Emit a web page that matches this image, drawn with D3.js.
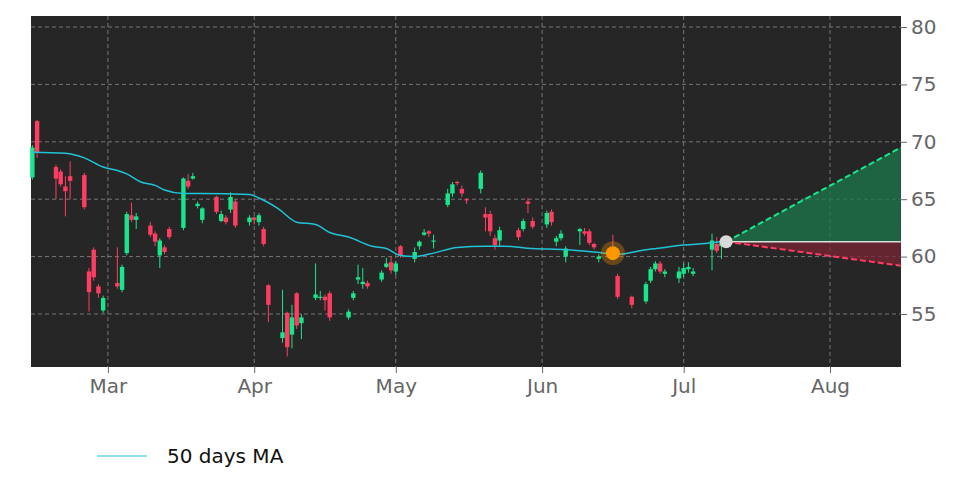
<!DOCTYPE html>
<html><head><meta charset="utf-8">
<script src="https://cdn.jsdelivr.net/npm/d3@7"></script>
<style>body{margin:0;background:#fff;} text{font-family:"DejaVu Sans",sans-serif;}</style>
</head><body><svg id="chart" width="972" height="486"></svg>
<script>
// candles: date, open, close, high, low
var dates = ["2025-02-13","2025-02-14","2025-02-18","2025-02-19","2025-02-20","2025-02-21","2025-02-24","2025-02-25","2025-02-26","2025-02-27","2025-02-28",
  "2025-03-03","2025-03-04","2025-03-05","2025-03-06","2025-03-07","2025-03-10","2025-03-11","2025-03-12","2025-03-13","2025-03-14",
  "2025-03-17","2025-03-18","2025-03-19","2025-03-20","2025-03-21","2025-03-24","2025-03-25","2025-03-26","2025-03-27","2025-03-28",
  "2025-03-31","2025-04-01","2025-04-02","2025-04-03","2025-04-04","2025-04-07","2025-04-08","2025-04-09","2025-04-10","2025-04-11",
  "2025-04-14","2025-04-15","2025-04-16","2025-04-17","2025-04-21","2025-04-22","2025-04-23","2025-04-24","2025-04-25",
  "2025-04-28","2025-04-29","2025-04-30","2025-05-01","2025-05-02","2025-05-05","2025-05-06","2025-05-07","2025-05-08","2025-05-09",
  "2025-05-12","2025-05-13","2025-05-14","2025-05-15","2025-05-16","2025-05-19","2025-05-20","2025-05-21","2025-05-22","2025-05-23",
  "2025-05-27","2025-05-28","2025-05-29","2025-05-30","2025-06-02","2025-06-03","2025-06-04","2025-06-05","2025-06-06",
  "2025-06-09","2025-06-10","2025-06-11","2025-06-12","2025-06-13","2025-06-16","2025-06-17","2025-06-20",
  "2025-06-23","2025-06-24","2025-06-25","2025-06-26","2025-06-27","2025-06-30","2025-07-01","2025-07-02","2025-07-03",
  "2025-07-07","2025-07-08","2025-07-09"];
var opens  = [66.9,71.8,67.8,67.4,66.1,67.0,67.1,58.7,60.6,57.4,55.3, 57.7,57.1,60.3,63.6,63.2,62.7,62.0,60.1,60.8,62.4,
  62.5,66.6,66.8,64.4,63.2,65.2,63.1,63.4,64.1,64.8, 63.0,63.4,63.0,62.4,57.5,52.9,55.1,53.2,56.8,54.2,
  56.4,56.4,56.5,56.8,54.7,56.4,58.0,57.6,57.7, 58.0,59.1,59.5,58.7,60.9,59.8,60.9,61.9,62.2,61.3,
  64.5,65.5,66.5,65.9,65.0,65.9,63.7,63.7,61.6,61.4, 62.3,62.4,64.8,63.1,62.8,63.9,61.3,61.6,60.0,
  62.2,62.2,62.2,61.1,59.8,60.5,58.3,56.5, 56.1,57.9,58.9,59.4,58.5,58.1,58.5,58.9,58.5, 60.6,61.1,60.9];
var closes = [69.5,69.1,66.8,66.3,65.7,66.6,64.3,56.9,58.2,56.8,56.4, 57.4,59.1,63.7,63.2,63.5,61.9,61.3,61.4,60.4,61.7,
  66.8,66.1,67.0,64.6,64.2,63.9,63.7,63.0,65.2,62.7, 63.4,63.2,63.6,61.1,55.8,53.4,52.1,54.7,54.0,54.7,
  56.7,56.5,56.2,54.7,55.2,56.8,58.2,57.8,57.4, 58.6,59.4,58.8,59.4,60.1,60.4,61.3,62.1,62.0,61.4,
  65.5,66.3,66.4,65.5,64.9,67.3,63.4,62.2,61.0,62.3, 61.7,63.1,64.6,62.6,63.8,63.0,61.6,62.0,60.7,
  62.4,62.0,61.2,60.8,60.0,60.2,56.5,55.8, 57.6,58.9,59.4,58.7,58.7,58.7,59.0,59.1,58.7, 61.4,60.5,61.4];
var highs  = [69.7,71.9,68.0,67.6,67.0,68.3,67.3,59.0,60.8,57.6,56.6, 60.8,59.3,63.9,64.7,63.8,63.0,62.2,61.6,61.0,62.6,
  66.9,67.2,67.3,64.8,64.3,65.3,64.0,63.6,65.6,65.0, 63.6,63.5,63.8,62.6,57.6,57.1,55.2,55.8,56.9,55.0,
  59.4,57.0,56.7,57.0,55.4,57.0,59.3,59.0,57.9, 58.8,59.9,60.0,59.6,61.0,60.8,61.4,62.4,62.3,61.9,
  65.9,66.5,66.6,66.2,65.1,67.5,64.3,64.0,61.9,62.6, 62.5,63.3,65.1,63.4,64.0,64.1,61.8,62.3,60.9,
  62.5,62.5,62.4,61.2,60.2,61.9,58.5,56.6, 57.8,59.1,59.6,59.6,58.9,59.1,59.4,59.5,59.0, 62.0,61.7,61.6];
var lows   = [66.7,68.6,65.0,66.1,63.5,65.0,64.1,55.2,57.9,56.4,55.1, 57.2,56.9,60.1,63.0,62.4,61.7,60.9,59.0,60.2,61.5,
  62.3,65.9,66.7,64.2,62.9,63.7,63.0,62.8,63.8,62.5, 62.7,62.8,62.7,60.9,54.3,52.5,51.3,52.0,53.7,52.8,
  56.2,56.2,55.3,54.4,54.5,56.2,57.6,57.2,57.2, 57.8,59.0,58.5,58.4,59.9,59.5,60.6,61.8,61.7,60.7,
  64.3,65.2,66.2,65.2,64.6,65.5,62.2,61.8,60.6,60.9, 61.4,62.2,63.8,62.4,62.5,62.7,60.9,61.4,59.5,
  61.0,61.8,61.0,60.6,59.5,59.7,56.3,55.5, 55.9,57.7,58.7,58.5,58.2,57.7,58.2,58.6,58.3, 58.8,60.3,59.8]
// 50 days MA
var maDates = ["2025-02-13","2025-02-20","2025-02-24","2025-02-28","2025-03-03","2025-03-05","2025-03-08","2025-03-11","2025-03-13","2025-03-17","2025-03-21","2025-03-31","2025-04-02","2025-04-06","2025-04-10","2025-04-14","2025-04-17","2025-04-21","2025-04-26","2025-04-29","2025-05-02","2025-05-05","2025-05-09","2025-05-14","2025-05-20","2025-05-24","2025-05-30","2025-06-06","2025-06-12","2025-06-17","2025-06-23","2025-06-27","2025-07-01","2025-07-07","2025-07-10"];
var maVals = [69.1,69.0,68.6,67.8,67.5,67.2,66.5,66.2,65.8,65.5,65.5,65.4,65.1,64.2,63.0,62.8,62.1,61.7,60.9,60.7,60.1,60.0,60.3,60.8,60.9,60.9,60.7,60.6,60.4,60.2,60.6,60.8,61.0,61.2,61.4];
var lastDate = "2025-07-10", lastPrice = 61.3;
var projDate = "2025-08-16", projHigh = 69.5, projLow = 59.2;
var eventDate = "2025-06-16", eventPrice = 60.3;
var yTicks = [55, 60, 65, 70, 75, 80];
var monthTicks = ["2025-03-01","2025-04-01","2025-05-01","2025-06-01","2025-07-01","2025-08-01"];

var parse = d3.timeParse("%Y-%m-%d");
var svg = d3.select("#chart");
var L = 31, R = 901, T = 16, B = 367;
var x = d3.scaleTime().domain([new Date(2025,1,12,17), new Date(2025,7,16,1)]).range([L, R]);
var y = d3.scaleLinear().domain([50.38, 80.96]).range([B, T]);

svg.append("rect").attr("x", L).attr("y", T).attr("width", R - L).attr("height", B - T).attr("fill", "#262626");

var grid = svg.append("g").attr("stroke", "#8a8a8a").attr("stroke-width", 0.8).attr("stroke-dasharray", "4,3");
grid.selectAll(".h").data(yTicks).enter().append("line")
  .attr("x1", L).attr("x2", R).attr("y1", d => y(d)).attr("y2", d => y(d));
grid.selectAll(".v").data(monthTicks).enter().append("line")
  .attr("y1", T).attr("y2", B).attr("x1", d => x(parse(d))).attr("x2", d => x(parse(d)));

// axes
var yAxis = svg.append("g").attr("transform", "translate(" + R + ",0)")
  .call(d3.axisRight(y).tickValues(yTicks).tickSize(6).tickPadding(4));
var xAxis = svg.append("g").attr("transform", "translate(0," + B + ")")
  .call(d3.axisBottom(x).tickValues(monthTicks.map(parse)).tickFormat(d3.timeFormat("%b")).tickSize(6).tickPadding(6));
[xAxis, yAxis].forEach(a => {
  a.select(".domain").remove();
  a.selectAll("line").attr("stroke", "#666");
  a.selectAll("text").attr("fill", "#666").style("font-size", "20px").style("font-family", "DejaVu Sans");
});

// projection cone
var x0 = x(parse(lastDate)), x1 = x(parse(projDate));
svg.append("path").attr("d", "M" + x0 + "," + y(lastPrice) + "L" + x1 + "," + y(projHigh) + "L" + x1 + "," + y(lastPrice) + "Z")
  .attr("fill", "#1c7a4e").attr("opacity", 0.75);
svg.append("path").attr("d", "M" + x0 + "," + y(lastPrice) + "L" + x1 + "," + y(lastPrice) + "L" + x1 + "," + y(projLow) + "Z")
  .attr("fill", "#7a2535").attr("opacity", 0.75);
svg.append("line").attr("x1", x0).attr("x2", x1).attr("y1", y(lastPrice)).attr("y2", y(lastPrice))
  .attr("stroke", "#dddddd").attr("stroke-width", 1.5);
svg.append("line").attr("x1", x0).attr("x2", x1).attr("y1", y(lastPrice)).attr("y2", y(projHigh))
  .attr("stroke", "#19e68c").attr("stroke-width", 2).attr("stroke-dasharray", "6,3");
svg.append("line").attr("x1", x0).attr("x2", x1).attr("y1", y(lastPrice)).attr("y2", y(projLow))
  .attr("stroke", "#ff3d63").attr("stroke-width", 2).attr("stroke-dasharray", "6,3");

// candles
var candles = dates.map((d, i) => ({date: parse(d), o: opens[i], c: closes[i], h: highs[i], l: lows[i]}));
var cg = svg.append("g").selectAll("g").data(candles).enter().append("g");
var col = d => d.c >= d.o ? "#19e68c" : "#ff3d63";
cg.append("line").attr("x1", d => x(d.date)).attr("x2", d => x(d.date))
  .attr("y1", d => y(d.h)).attr("y2", d => y(d.l)).attr("stroke", col).attr("stroke-width", 1);
cg.append("rect").attr("x", d => x(d.date) - 2.2).attr("width", 4.4)
  .attr("y", d => y(Math.max(d.o, d.c))).attr("height", d => Math.max(1, Math.abs(y(d.o) - y(d.c)))).attr("fill", col);

// MA line
var ma = maDates.map((d, i) => ({date: parse(d), v: maVals[i]}));
svg.append("path").datum(ma).attr("fill", "none").attr("stroke", "#22c3d6").attr("stroke-width", 1.5)
  .attr("d", d3.line().x(d => x(d.date)).y(d => y(d.v)).curve(d3.curveMonotoneX));

// markers
svg.append("circle").attr("cx", x(parse(eventDate))).attr("cy", y(eventPrice)).attr("r", 12).attr("fill", "#ff9800").attr("opacity", 0.3);
svg.append("circle").attr("cx", x(parse(eventDate))).attr("cy", y(eventPrice)).attr("r", 7).attr("fill", "#ff9800");
svg.append("circle").attr("cx", x0).attr("cy", y(lastPrice)).attr("r", 6.5).attr("fill", "#d9d9d9");

// legend
svg.append("line").attr("x1", 97).attr("x2", 147).attr("y1", 456).attr("y2", 456).attr("stroke", "#22c3d6").attr("stroke-width", 1.2);
svg.append("text").attr("x", 167).attr("y", 463).text("50 days MA").style("font-size", "20px").attr("fill", "#111");
</script></body></html>
